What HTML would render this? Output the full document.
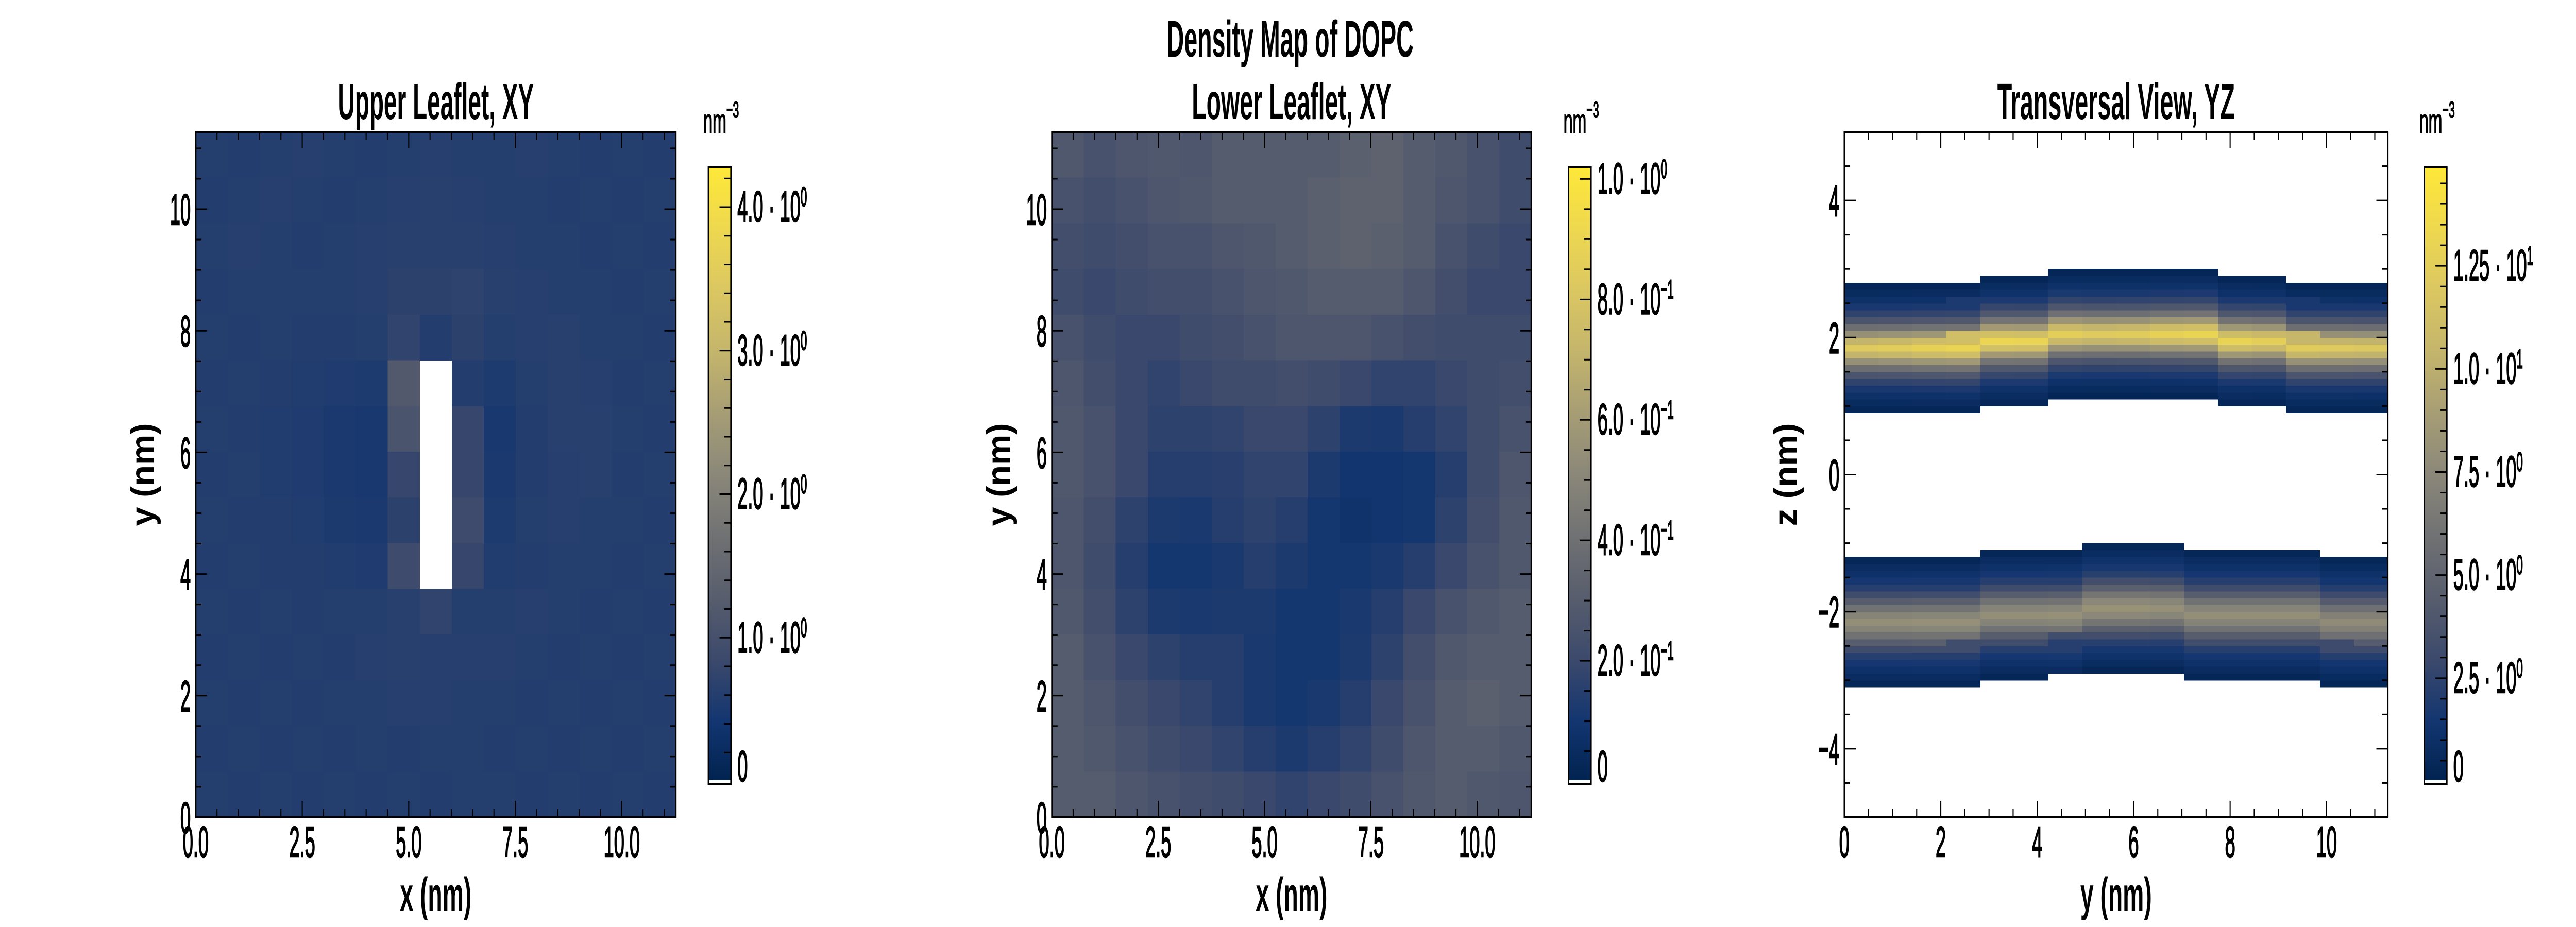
<!DOCTYPE html>
<html><head><meta charset="utf-8"><style>
html,body{margin:0;padding:0;background:#fff;width:100vw;height:100vh;overflow:hidden;}
svg{display:block;width:100vw;height:100vh;}
svg text{font-family:"Liberation Sans",sans-serif;fill:#000;}
</style></head><body>
<svg id="fig" xmlns="http://www.w3.org/2000/svg" viewBox="0 0 7200 1800" preserveAspectRatio="none">
<defs>
<linearGradient id="cividis" x1="0" y1="1" x2="0" y2="0">
<stop offset="0" stop-color="#00224e"/><stop offset="0.1" stop-color="#123570"/><stop offset="0.2" stop-color="#3b496c"/><stop offset="0.3" stop-color="#575d6d"/><stop offset="0.4" stop-color="#707173"/><stop offset="0.5" stop-color="#8a8779"/><stop offset="0.6" stop-color="#a69d75"/><stop offset="0.7" stop-color="#c4b56c"/><stop offset="0.8" stop-color="#dbc761"/><stop offset="0.9" stop-color="#eed84f"/><stop offset="1" stop-color="#fee838"/>
</linearGradient>
</defs>
<text x="3606" y="110" text-anchor="middle" font-size="100" font-weight="bold" textLength="690" lengthAdjust="spacingAndGlyphs">Density Map of DOPC</text>
</svg>
<script>
// ---- Data ----
// Panel 1: upper leaflet XY density (15x15 grid, 0.75 nm cells, rows from top y=11.25 down), null = empty
const upperXY = [
[0.62,0.60,0.62,0.64,0.62,0.60,0.62,0.64,0.62,0.62,0.64,0.62,0.60,0.62,0.60],
[0.60,0.62,0.64,0.62,0.60,0.62,0.64,0.66,0.64,0.62,0.62,0.60,0.62,0.60,0.62],
[0.62,0.64,0.62,0.60,0.62,0.64,0.66,0.66,0.66,0.64,0.62,0.62,0.60,0.62,0.60],
[0.60,0.62,0.62,0.62,0.62,0.64,0.70,0.70,0.72,0.66,0.64,0.62,0.62,0.60,0.62],
[0.62,0.60,0.62,0.60,0.60,0.62,0.75,0.60,0.70,0.62,0.64,0.66,0.62,0.62,0.60],
[0.60,0.62,0.60,0.58,0.56,0.55,1.20,null,0.60,0.55,0.62,0.66,0.64,0.60,0.62],
[0.62,0.60,0.58,0.56,0.52,0.50,1.10,null,0.80,0.50,0.60,0.66,0.66,0.62,0.60],
[0.60,0.62,0.58,0.56,0.52,0.50,0.80,null,0.80,0.52,0.60,0.64,0.66,0.60,0.62],
[0.62,0.60,0.60,0.58,0.54,0.52,0.70,null,0.90,0.55,0.62,0.64,0.62,0.62,0.60],
[0.60,0.62,0.60,0.60,0.58,0.56,0.90,null,0.80,0.58,0.60,0.62,0.62,0.60,0.62],
[0.62,0.60,0.62,0.60,0.62,0.62,0.66,0.75,0.62,0.62,0.64,0.62,0.60,0.62,0.60],
[0.60,0.62,0.60,0.62,0.60,0.64,0.66,0.64,0.64,0.64,0.62,0.60,0.62,0.60,0.62],
[0.62,0.60,0.62,0.60,0.62,0.62,0.64,0.64,0.62,0.62,0.60,0.62,0.60,0.62,0.60],
[0.60,0.62,0.60,0.62,0.60,0.62,0.60,0.62,0.62,0.60,0.62,0.60,0.62,0.60,0.62],
[0.62,0.60,0.62,0.60,0.62,0.60,0.62,0.60,0.62,0.62,0.60,0.62,0.60,0.62,0.60]
];
// Panel 2: lower leaflet XY density
const lowerXY = [
[0.28,0.25,0.27,0.28,0.27,0.30,0.30,0.30,0.30,0.32,0.33,0.30,0.28,0.25,0.22],
[0.25,0.23,0.25,0.27,0.28,0.30,0.30,0.30,0.32,0.33,0.33,0.30,0.27,0.25,0.22],
[0.23,0.22,0.23,0.25,0.25,0.27,0.28,0.30,0.32,0.33,0.32,0.30,0.25,0.22,0.20],
[0.22,0.20,0.22,0.23,0.23,0.25,0.27,0.28,0.30,0.30,0.30,0.27,0.23,0.20,0.20],
[0.25,0.22,0.20,0.20,0.22,0.23,0.25,0.27,0.27,0.27,0.25,0.23,0.22,0.22,0.22],
[0.27,0.23,0.20,0.18,0.20,0.22,0.22,0.23,0.22,0.20,0.18,0.18,0.20,0.22,0.23],
[0.28,0.25,0.20,0.17,0.17,0.18,0.20,0.20,0.17,0.13,0.12,0.15,0.18,0.22,0.25],
[0.28,0.25,0.20,0.15,0.15,0.16,0.18,0.18,0.13,0.10,0.10,0.11,0.15,0.22,0.27],
[0.27,0.23,0.17,0.13,0.12,0.15,0.17,0.15,0.11,0.09,0.10,0.11,0.17,0.23,0.28],
[0.27,0.22,0.15,0.11,0.11,0.12,0.15,0.13,0.11,0.11,0.12,0.15,0.20,0.25,0.28],
[0.28,0.23,0.17,0.13,0.12,0.13,0.13,0.11,0.11,0.12,0.15,0.20,0.25,0.28,0.30],
[0.30,0.25,0.20,0.17,0.15,0.15,0.12,0.11,0.11,0.13,0.17,0.23,0.28,0.30,0.30],
[0.30,0.27,0.23,0.20,0.18,0.15,0.12,0.11,0.12,0.15,0.20,0.25,0.30,0.32,0.30],
[0.30,0.28,0.25,0.22,0.20,0.18,0.15,0.13,0.15,0.18,0.22,0.27,0.30,0.30,0.28],
[0.30,0.30,0.27,0.25,0.23,0.22,0.20,0.18,0.20,0.22,0.25,0.28,0.30,0.28,0.27]
];
// Panel 3: transversal view; band centres per y-column (16 columns over 0..11.27 nm)
const upperCenter = [1.85,1.86,1.88,1.90,1.93,1.97,2.02,2.06,2.08,2.06,2.02,1.98,1.94,1.90,1.87,1.85];
const lowerCenter = [-2.15,-2.14,-2.12,-2.10,-2.08,-2.04,-2.00,-1.96,-1.95,-1.98,-2.02,-2.05,-2.07,-2.09,-2.10,-2.12];
const upperAmp = [0.95,0.97,1.00,1.02,1.03,1.02,0.98,0.95,0.96,1.00,1.02,1.01,0.98,0.96,0.95,0.94];
const lowerAmp = [1.00,1.00,1.02,1.02,1.00,1.00,1.02,1.04,1.04,1.02,1.00,1.00,1.00,1.00,0.98,0.98];
// density profile across a band, offsets -0.9..+0.9 nm in 0.1 nm steps
const upperProfile = [0.4,0.8,1.2,1.8,2.7,4.0,6.0,8.5,11.0,12.8,11.0,8.5,6.0,4.0,2.7,1.8,1.2,0.8,0.4];
const lowerProfile = [0.4,0.8,1.2,1.6,2.2,3.2,4.5,6.0,7.2,7.9,7.2,6.0,4.5,3.2,2.2,1.6,1.2,0.8,0.4];
// tick labels
const xTicksXY = [0,2.5,5,7.5,10];
const xTickLabelsXY = ["0.0","2.5","5.0","7.5","10.0"];
const yTicksXY = [0,2,4,6,8,10];
const yTickLabelsXY = ["0","2","4","6","8","10"];
const yTicksYZ = [0,2,4,6,8,10];
const zTicksYZ = [-4,-2,0,2,4];
const zTickLabelsYZ = ["\u22124","\u22122","0","2","4"];
const cb1Ticks = [0,1,2,3,4];
const cb1Mant = ["0","1.0","2.0","3.0","4.0"]; const cb1Exp = ["","0","0","0","0"];
const cb2Ticks = [0,0.2,0.4,0.6,0.8,1.0];
const cb2Mant = ["0","2.0","4.0","6.0","8.0","1.0"]; const cb2Exp = ["","\u22121","\u22121","\u22121","\u22121","0"];
const cb3Ticks = [0,2.5,5,7.5,10,12.5];
const cb3Mant = ["0","2.5","5.0","7.5","1.0","1.25"]; const cb3Exp = ["","0","0","0","1","1"];

const NS = "http://www.w3.org/2000/svg";
const svg = document.getElementById('fig');
const stops = [[0,[0,34,78]],[0.1,[18,53,112]],[0.2,[59,73,108]],[0.3,[87,93,109]],[0.4,[112,113,115]],[0.5,[138,135,121]],[0.6,[166,157,117]],[0.7,[196,181,108]],[0.8,[219,199,97]],[0.9,[238,216,79]],[1,[254,232,56]]];
function cmap(t){t=Math.max(0,Math.min(1,t));for(let i=1;i<stops.length;i++){if(t<=stops[i][0]){const a=stops[i-1],b=stops[i];const f=(t-a[0])/(b[0]-a[0]);const c=a[1].map((v,k)=>Math.round(v+(b[1][k]-v)*f));return `rgb(${c[0]},${c[1]},${c[2]})`;}}return 'rgb(254,232,56)';}
function el(tag,attrs,parent){const e=document.createElementNS(NS,tag);for(const k in attrs)e.setAttribute(k,attrs[k]);(parent||svg).appendChild(e);return e;}
function txt(x,y,s,size,anchor,sx,bold,parent){const t=el('text',{transform:`translate(${x},${y}) scale(${sx},1)`,'font-size':size,'text-anchor':anchor,stroke:'#000','stroke-width':2.5},parent);if(bold)t.setAttribute('font-weight','bold');t.textContent=s;return t;}

function panel(cfg){
  const g=el('g',{});
  
  
  const sx=v=>cfg.L+(v-cfg.x0)/(cfg.x1-cfg.x0)*(cfg.R-cfg.L);
  const sy=v=>cfg.B-(v-cfg.y0)/(cfg.y1-cfg.y0)*(cfg.B-cfg.T);
  const hm=el('g',{'shape-rendering':'crispEdges'},g);
  
  
  cfg.cells(hm,sx,sy);
  const tg=el('g',{stroke:'#000','stroke-width':3},g);
  
  
  for(let v=cfg.x0;v<=cfg.x1+1e-9;v+=cfg.xMinor){const X=sx(v);const maj=Math.abs(v/cfg.xMajor-Math.round(v/cfg.xMajor))<1e-6;const len=maj?32:16;el('line',{x1:X,x2:X,y1:cfg.B,y2:cfg.B-len},tg);el('line',{x1:X,x2:X,y1:cfg.T,y2:cfg.T+len},tg);}
  let start=Math.ceil(cfg.y0/cfg.yMinor)*cfg.yMinor;
  for(let v=start;v<=cfg.y1+1e-9;v+=cfg.yMinor){const Y=sy(v);const maj=Math.abs(v/cfg.yMajor-Math.round(v/cfg.yMajor))<1e-6;const len=maj?32:16;el('line',{x1:cfg.L,x2:cfg.L+len,y1:Y,y2:Y},tg);el('line',{x1:cfg.R,x2:cfg.R-len,y1:Y,y2:Y},tg);}
  const fr=el('rect',{x:cfg.L,y:cfg.T,width:cfg.R-cfg.L,height:cfg.B-cfg.T,fill:'none',stroke:'#000','stroke-width':4},g);
  
  
  cfg.xt.forEach((v,i)=>{const t=txt(sx(v),1664,cfg.xtl[i],84,'middle',0.62,false,g);
    
    });
  cfg.yt.forEach((v,i)=>{const t=txt(cfg.L-14,sy(v)+30,cfg.ytl[i],84,'end',0.62,false,g);
    
    });
  const ttl=el('text',{x:(cfg.L+cfg.R)/2,y:232,'font-size':100,'font-weight':'bold','text-anchor':'middle',textLength:cfg.titleW,lengthAdjust:'spacingAndGlyphs'},g);
  
  
  ttl.textContent=cfg.title;
  const xl=el('text',{x:(cfg.L+cfg.R)/2,y:1768,'font-size':92,'font-weight':'bold','text-anchor':'middle',textLength:200,lengthAdjust:'spacingAndGlyphs'},g);
  
  
  xl.textContent=cfg.xlabel;
  const yc=(cfg.T+cfg.B)/2;
  const yl=el('text',{x:0,y:0,transform:`translate(${cfg.ylx},${yc}) rotate(-90)`,'font-size':92,'font-weight':'bold','text-anchor':'middle',textLength:200,lengthAdjust:'spacingAndGlyphs'},g);
  
  
  yl.textContent=cfg.ylabel;
  const cb=el('g',{},g);
  
  
  const cT=324,cB=1523,cL=cfg.cbL,cR=cfg.cbL+63;
  el('rect',{x:cL,y:cT,width:cR-cL,height:cB-cT,fill:'url(#cividis)'},cb);
  el('rect',{x:cL,y:cB-8,width:cR-cL,height:8,fill:'#fff'},cb);
  el('rect',{x:cL,y:cT,width:cR-cL,height:cB-cT,fill:'none',stroke:'#000','stroke-width':4},cb);
  const cy=v=>cB-6-v/cfg.vmax*(cB-6-cT);
  for(let v=cfg.cbMinor;v<cfg.vmax;v+=cfg.cbMinor){const Y=cy(v);const maj=cfg.cbt.some(t=>Math.abs(t-v)<1e-6);el('line',{x1:cR,x2:cR-(maj?32:19),y1:Y,y2:Y,stroke:'#000','stroke-width':3},cb);}
  cfg.cbt.forEach((v,i)=>{const Y=cy(v);const t=el('text',{transform:`translate(${cR+18},${Y+(i===0?0:28)}) scale(0.62,1)`,'font-size':84,stroke:'#000','stroke-width':2.5},cb);
    
    
    t.textContent=cfg.cbm[i]+(cfg.cbe[i]!==''?' \u00b7 10':'');
    if(cfg.cbe[i]!==''){const s=el('tspan',{dy:-30,'font-size':52},t);s.textContent=cfg.cbe[i];}});
  const u=el('text',{transform:`translate(${cL-14},${258}) scale(0.7,1)`,'font-size':66,stroke:'#000','stroke-width':2},cb);
  
  
  u.textContent='nm';const us=el('tspan',{dy:-30,'font-size':44},u);us.textContent='\u22123';
}
function gridCells(data,vmax){return (hm,sx,sy)=>{const n=data.length,m=data[0].length;const d=11.27/m;
  for(let r=0;r<n;r++)for(let c=0;c<m;c++){const v=data[r][c];if(v===null)continue;
    const x0=sx(c*d),x1=sx((c+1)*d),y0=sy(11.27-r*d),y1=sy(11.27-(r+1)*d);
    const rc=el('rect',{x:x0,y:y0,width:x1-x0+0.5,height:y1-y0+0.5,fill:cmap(v/vmax)},hm);
    
    }};}
function bandCells(hm,sx,sy){const m=upperCenter.length;const d=11.27/m;const vmax=14.9;
  for(let c=0;c<m;c++){for(let zi=0;zi<100;zi++){const z=-5+zi*0.1+0.05;let v=null;
    const ku=Math.round((z-upperCenter[c])/0.1)+9;const kl=Math.round((z-lowerCenter[c])/0.1)+9;
    if(ku>=0&&ku<upperProfile.length)v=upperProfile[ku]*upperAmp[c];
    else if(kl>=0&&kl<lowerProfile.length)v=lowerProfile[kl]*lowerAmp[c];
    if(v===null)continue;
    const x0=sx(c*d),x1=sx((c+1)*d),y0=sy(z+0.05),y1=sy(z-0.05);
    const rc=el('rect',{x:x0,y:y0,width:x1-x0+0.5,height:y1-y0+0.5,fill:cmap(v/vmax)},hm);
    
    }}}
panel({name:'upper-leaflet-panel',L:547,R:1889,T:256,B:1587,x0:0,x1:11.27,y0:0,y1:11.27,xMajor:2.5,xMinor:0.5,yMajor:2,yMinor:0.5,
  xt:xTicksXY,xtl:xTickLabelsXY,yt:yTicksXY,ytl:yTickLabelsXY,title:'Upper Leaflet, XY',titleW:548,xlabel:'x (nm)',ylabel:'y (nm)',ylx:430,
  cells:gridCells(upperXY,4.28),cbL:1980,vmax:4.28,cbMinor:0.2,cbt:cb1Ticks,cbm:cb1Mant,cbe:cb1Exp});
panel({name:'lower-leaflet-panel',L:2940,R:4280,T:256,B:1587,x0:0,x1:11.27,y0:0,y1:11.27,xMajor:2.5,xMinor:0.5,yMajor:2,yMinor:0.5,
  xt:xTicksXY,xtl:xTickLabelsXY,yt:yTicksXY,ytl:yTickLabelsXY,title:'Lower Leaflet, XY',titleW:558,xlabel:'x (nm)',ylabel:'y (nm)',ylx:2823,
  cells:gridCells(lowerXY,1.02),cbL:4384,vmax:1.02,cbMinor:0.05,cbt:cb2Ticks,cbm:cb2Mant,cbe:cb2Exp});
panel({name:'transversal-panel',L:5155,R:6674,T:256,B:1587,x0:0,x1:11.27,y0:-5,y1:5,xMajor:2,xMinor:0.5,yMajor:2,yMinor:0.5,
  xt:yTicksYZ,xtl:yTicksYZ.map(String),yt:zTicksYZ,ytl:zTickLabelsYZ,title:'Transversal View, YZ',titleW:664,xlabel:'y (nm)',ylabel:'z (nm)',ylx:5022,
  cells:bandCells,cbL:6776,vmax:14.9,cbMinor:0.5,cbt:cb3Ticks,cbm:cb3Mant,cbe:cb3Exp});
</script>
</body></html>
